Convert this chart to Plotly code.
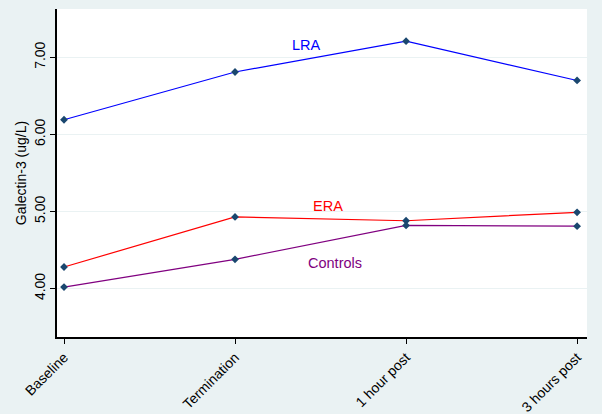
import plotly.graph_objects as go

categories = ["Baseline", "Termination", "1 hour post", "3 hours post"]
lra = [6.19, 6.81, 7.21, 6.70]
era = [4.28, 4.93, 4.88, 4.99]
controls = [4.02, 4.38, 4.82, 4.81]
y_ticks = [4.0, 5.0, 6.0, 7.0]
y_tick_labels = ["4.00", "5.00", "6.00", "7.00"]

x_idx = list(range(len(categories)))
marker = dict(symbol="diamond", size=6, color="#1a476f")
bg = "#eaf2f3"

fig = go.Figure()
for name, vals, col in [("LRA", lra, "#0000ff"), ("ERA", era, "#ff0000"), ("Controls", controls, "#800080")]:
    fig.add_trace(go.Scatter(x=x_idx, y=vals, mode="lines+markers", name=name,
                             line=dict(color=col, width=1.2), marker=marker))

fig.add_annotation(x=1.42, y=7.156, text="LRA", showarrow=False, font=dict(color="#0000ff", size=14.5))
fig.add_annotation(x=1.544, y=5.07, text="ERA", showarrow=False, font=dict(color="#ff0000", size=14.5))
fig.add_annotation(x=1.582, y=4.335, text="Controls", showarrow=False, font=dict(color="#800080", size=14.5))

fig.update_layout(
    width=602, height=414,
    margin=dict(l=57, r=15, t=9, b=77),
    paper_bgcolor=bg, plot_bgcolor="white",
    showlegend=False,
    font=dict(family="Liberation Sans, Arial, sans-serif", size=14, color="black"),
    xaxis=dict(range=[-0.041, 3.058], tickvals=x_idx, ticktext=categories, tickangle=-45,
               tickfont=dict(size=14),
               showgrid=False, zeroline=False, showline=True, linecolor="black", linewidth=1.5,
               ticks="outside", ticklen=5, tickcolor="black", automargin=False),
    yaxis=dict(range=[3.372, 7.627], tickvals=y_ticks, ticktext=y_tick_labels, tickangle=-90,
               showgrid=True, gridcolor=bg, gridwidth=1, zeroline=False,
               showline=True, linecolor="black", linewidth=1.5,
               ticks="outside", ticklen=5, tickcolor="black", automargin=False,
               title=dict(text="Galectin-3 (ug/L)", standoff=2, font=dict(size=14))),
)

fig.write_html("out.html", config={"displayModeBar": False},
               post_script="document.body.style.margin='0';document.body.style.padding='0';")
